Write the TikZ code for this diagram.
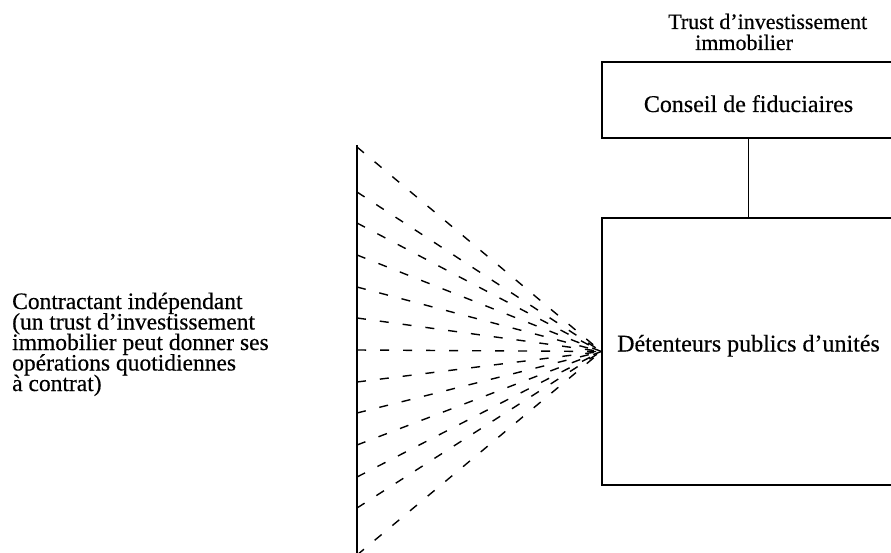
\documentclass[tikz,border=0pt]{standalone}
\usepackage{fontspec}
\setmainfont{Liberation Serif}[FakeBold=0.4]
\newcommand\tightlines{\lineskiplimit=-100pt\relax}
\begin{document}
\begin{tikzpicture}[x=1pt,y=-1pt,
  box/.style={draw, line width=1.4pt, minimum width=293pt, inner sep=0pt,
    font=\fontsize{24}{24}\selectfont},
  link/.style={line width=1.4pt},
  rail/.style={line width=1.7pt},
  fan/.style={dash pattern=on 9pt off 14pt, line width=1.4pt},
  lbl/.style={inner sep=0pt, anchor=base west, align=left}]
\useasboundingbox (0,0) rectangle (891,553);
\clip (0,0) rectangle (891,553);
\node[lbl, font={\fontsize{22}{21}\selectfont\tightlines}] (title) at (668,50)
  {Trust d’investissement\\\hspace*{27pt}immobilier};
\node[box, minimum height=76pt, text height=24pt, text depth=0pt] (conseil) at (748.5,100)
  {Conseil de fiduciaires};
\node[box, minimum height=267pt, text height=8pt, text depth=8pt] (detent) at (748.5,351.5)
  {Détenteurs publics d’unités};
\draw[link] (conseil.south) -- (detent.north);
\node[lbl, font={\fontsize{23.5}{20.5}\selectfont\tightlines}] (contr) at (12,391)
  {Contractant indépendant\\(un trust d’investissement\\immobilier peut donner ses\\opérations quotidiennes\\à contrat)};
\coordinate (vtop) at (357,145);
\coordinate (vbot) at (357,553);
\draw[rail] (vtop) -- (vbot);
\foreach \d [count=\i] in {-203,-158,-127,-95,-63,-32,0,32,63,95,127,158,205} {
  \coordinate (s\i) at (357,{350+\d});
  \draw[fan] (s\i) -- (detent.west);
}
\end{tikzpicture}
\end{document}
